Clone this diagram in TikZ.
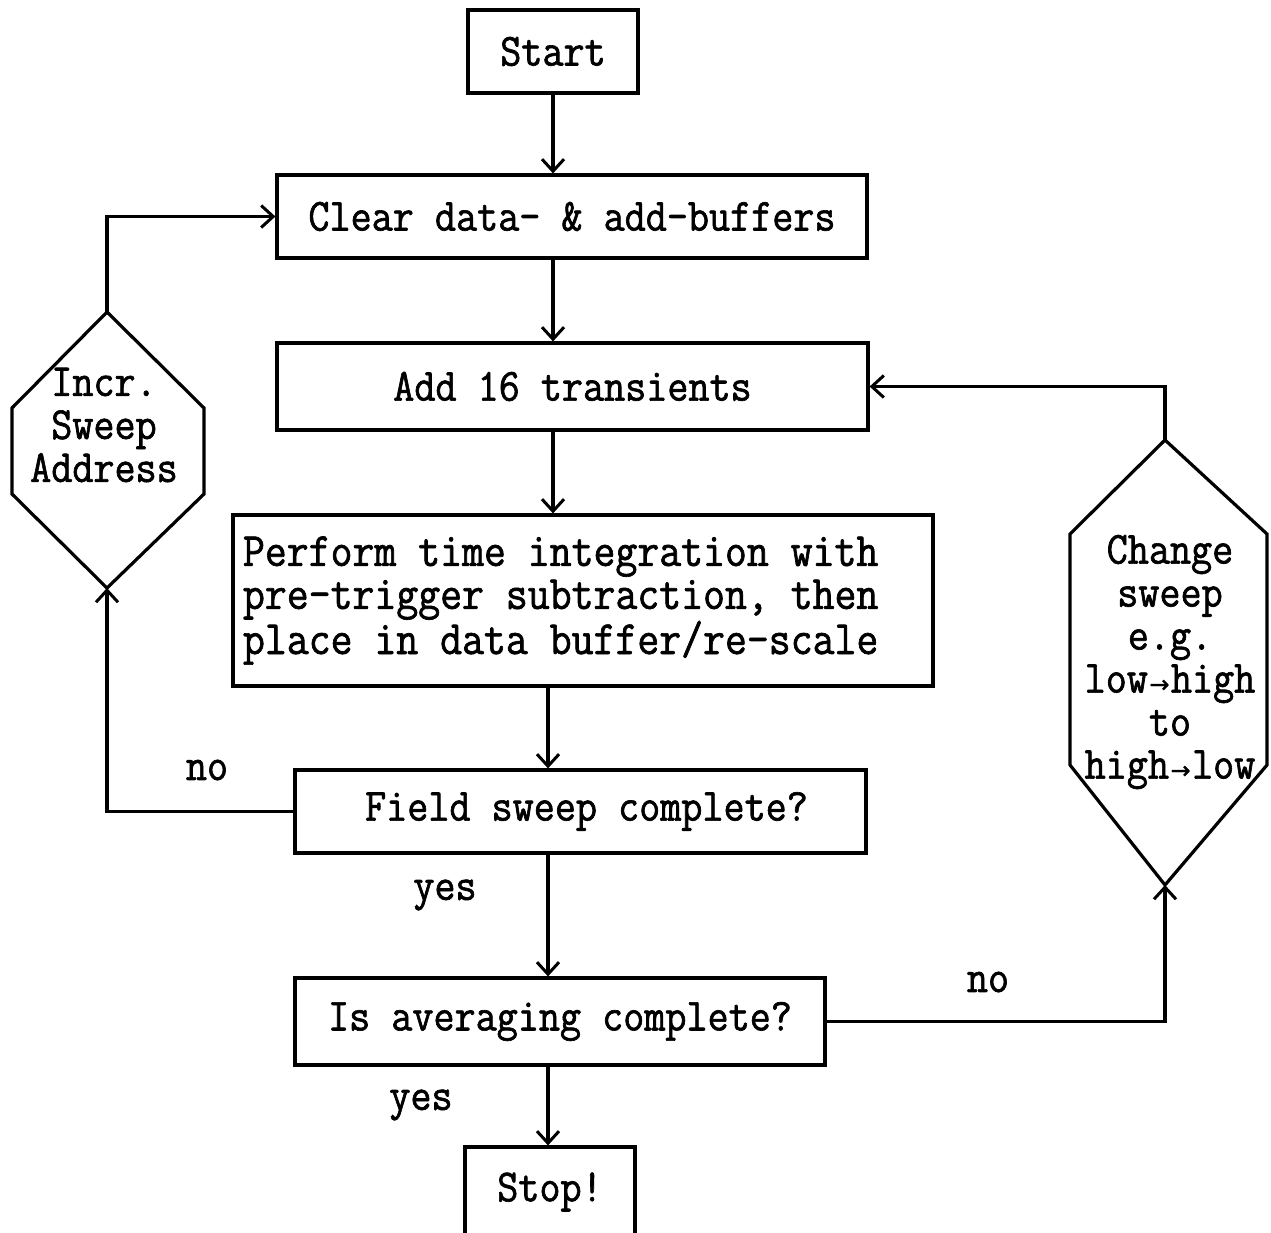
\documentclass[tikz,border=0pt]{standalone}
\usepackage{fontspec}
\usetikzlibrary{arrows.meta}
% typewriter face used for every label
\newfontfamily\flowfont{Latin Modern Mono}[FakeBold=1.4,FakeStretch=0.89]
\newfontfamily\arrowfont{DejaVu Sans}[FakeBold=1]
\newcommand\flowarrow{\makebox[0.5em]{\arrowfont\fontsize{24}{24}\selectfont →}}
\newcommand\perfline[1]{\makebox[680pt][l]{#1}}

\begin{document}
\begin{tikzpicture}[x=1pt,y=-1pt,line width=3.2pt,
  every node/.style={font={\flowfont\fontsize{46}{43}\selectfont}},
  box/.style={draw,rectangle,inner sep=0pt,align=center},
  txt/.style={inner sep=0pt,align=center},
  flow/.style={-{Straight Barb[length=12pt,width=22pt,line width=3pt]}}]

\path[use as bounding box] (0,0) rectangle (1271,1232);
\clip (0,0) rectangle (1271,1232);

% process boxes
\node[box,minimum width=170pt,minimum height=83pt] (start) at (553,51.5) {Start};
\node[box,minimum width=590pt,minimum height=83pt] (clear) at (572,216.5) {Clear data- \& add-buffers};
\node[box,minimum width=591pt,minimum height=87pt] (add) at (572.5,386.5) {Add 16 transients};
\node[box,minimum width=700pt,minimum height=171pt,align=left,
      font={\flowfont\fontsize{47.8}{43}\selectfont}] (perf) at (583,600.5)
  {\perfline{Perform time integration with}\\
   \perfline{pre-trigger subtraction, then}\\
   \perfline{place in data buffer/re-scale}};
\node[box,minimum width=571pt,minimum height=83pt] (field) at (580.5,811.5) {\hspace{12pt}Field sweep complete?};
\node[box,minimum width=530pt,minimum height=87pt] (avg) at (560,1021.5) {Is averaging complete?};
\node[box,minimum width=170pt,minimum height=90pt] (stop) at (550,1192) {Stop!};

% left hexagon: increment sweep address
\coordinate (lh-top) at (107,312);
\coordinate (lh-bot) at (107,588);
\draw (lh-top) -- (204,408) -- (204,494) -- (lh-bot) -- (12,494) -- (12,408) -- cycle;
\node[txt] (incr) at (104,425) {Incr.\\Sweep\\Address};

% right hexagon: change sweep direction
\coordinate (rh-top) at (1165,440);
\coordinate (rh-bot) at (1165,885);
\draw (rh-top) -- (1267,534) -- (1267,765) -- (rh-bot) -- (1070,765) -- (1070,534) -- cycle;
\node[txt] (chg) at (1170,662)
  {Change\\sweep\\e.g.\\low\flowarrow high\\to\\high\flowarrow low};

% main flow
\coordinate (spine) at (548,0);
\draw[flow] (start.south) -- (start.south |- clear.north);
\draw[flow] (clear.south -| start.south) -- (add.north -| start.south);
\draw[flow] (add.south -| start.south) -- (perf.north -| start.south);
\draw[flow] (perf.south -| spine) -- (field.north -| spine);
\draw[flow] (field.south -| spine) -- (avg.north -| spine);
\draw[flow] (avg.south -| spine) -- (stop.north -| spine);

% loops
\draw[flow] (field.west) -| (lh-bot);
\draw[flow] (lh-top) |- (clear.west);
\draw[flow] (avg.east) -| (rh-bot);
\draw[flow] (rh-top) |- (add.east);

% branch labels
\node[txt] (no1) at (207,770) {no};
\node[txt] (yes1) at (445,895) {yes};
\node[txt] (no2) at (988,982) {no};
\node[txt] (yes2) at (421,1105) {yes};
\end{tikzpicture}
\end{document}
